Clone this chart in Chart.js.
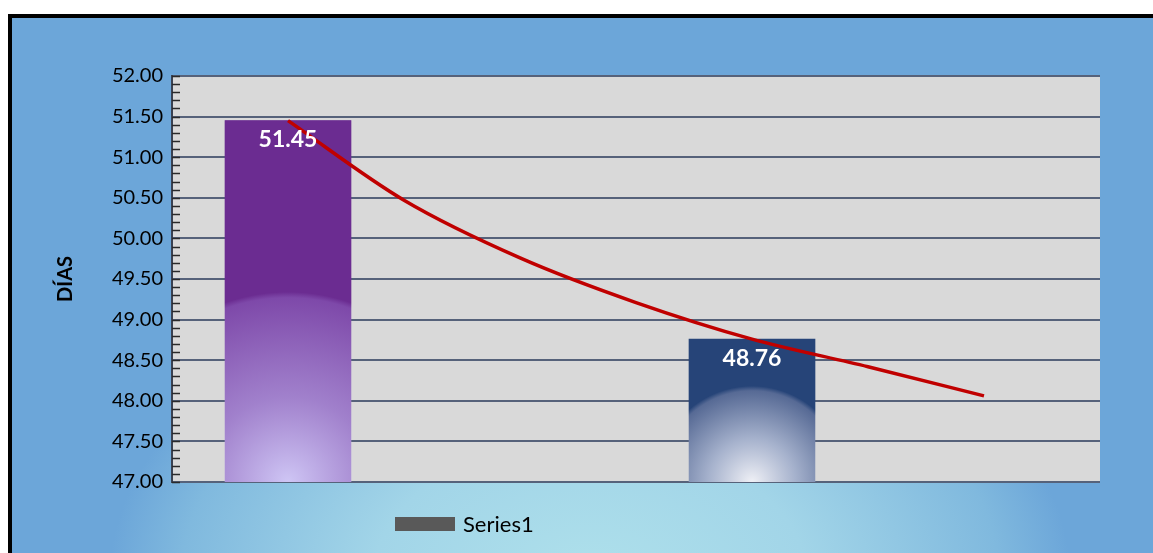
<!DOCTYPE html>
<html>
<head>
<meta charset="utf-8">
<script src="https://cdn.jsdelivr.net/npm/chart.js@4.4.1/dist/chart.umd.min.js"></script>
<style>
  body { margin: 0; background: #fff; overflow: hidden; }
  #frame {
    position: absolute; left: 8px; top: 14px; width: 1141px; height: 535px;
    border-left: 4px solid #000; border-top: 4px solid #000;
    background: radial-gradient(ellipse 480px 300px at 578px 557px, #aee0eb 0%, #a2d5e8 45%, #80b9de 85%, rgba(108,166,217,0) 100%), #6ca6d9;
  }
  #chart { position: absolute; left: 0; top: 0; }
</style>
</head>
<body>
<div id="frame"></div>
<canvas id="chart" width="1153" height="553"></canvas>
<script>
    // datos
    const categories = [1, 2];
    const seriesName = 'Series1';
    const barValues = [51.45, 48.76];
    const trendX = [1, 1.25, 1.5, 1.75, 2, 2.25, 2.5];
    const trendValues = [51.45, 50.47, 49.76, 49.21, 48.76, 48.42, 48.06];
    const yMin = 47, yMax = 52, yStep = 0.5;

    const barTop = ['#6b2c91', '#264478'];
    const barGlow = [
        { r: 190, stops: [[0, 'rgba(212,206,250,0.95)'], [0.45, 'rgba(168,140,212,0.88)'], [0.97, 'rgba(128,76,172,0.9)'], [1, '#6b2c91']] },
        { r: 96, stops: [[0, 'rgba(246,246,250,0.97)'], [0.45, 'rgba(180,190,214,0.9)'], [0.95, 'rgba(92,110,152,0.9)'], [1, '#264478']] }
    ];

    function barFill(ctx) {
        const chart = ctx.chart;
        const area = chart.chartArea;
        const i = ctx.dataIndex;
        if (!area || i === undefined) return barTop[0];
        const cx = chart.scales.x.getPixelForValue(categories[i]);
        const g = chart.ctx.createRadialGradient(cx, area.bottom, 0, cx, area.bottom, barGlow[i].r);
        barGlow[i].stops.forEach(s => g.addColorStop(s[0], s[1]));
        return g;
    }

    const plotBg = {
        id: 'plotBg',
        beforeDraw(chart) {
            const a = chart.chartArea, c = chart.ctx;
            c.save();
            c.fillStyle = '#d9d9d9';
            c.fillRect(a.left, a.top, a.right - a.left, a.bottom - a.top);
            c.restore();
        }
    };

    // barras: parte superior sólida antes del degradado
    const barSolid = {
        id: 'barSolid',
        beforeDatasetsDraw(chart) {
            const meta = chart.getDatasetMeta(0);
            const a = chart.chartArea, c = chart.ctx;
            c.save();
            meta.data.forEach((bar, i) => {
                const w = bar.width;
                const bottom = Math.min(bar.base, a.bottom);
                c.fillStyle = barTop[i];
                c.fillRect(bar.x - w / 2, bar.y, w, bottom - bar.y);
            });
            c.restore();
        }
    };

    const minorTicks = {
        id: 'minorTicks',
        beforeDatasetsDraw(chart) {
            const y = chart.scales.y, a = chart.chartArea, c = chart.ctx;
            c.save();
            c.strokeStyle = '#2a2a2a';
            c.lineWidth = 1.5;
            for (let v = yMin; v <= yMax + 1e-9; v += 0.1) {
                const py = Math.round(y.getPixelForValue(v)) + 0.5;
                c.beginPath();
                c.moveTo(a.left, py);
                c.lineTo(a.left + 8, py);
                c.stroke();
            }
            c.restore();
        }
    };

    const barLabels = {
        id: 'barLabels',
        afterDatasetsDraw(chart) {
            const meta = chart.getDatasetMeta(0);
            const c = chart.ctx;
            c.save();
            c.fillStyle = '#fff';
            c.font = 'bold 23px Lato';
            c.textAlign = 'center';
            c.textBaseline = 'middle';
            meta.data.forEach((bar, i) => {
                c.fillText(barValues[i].toFixed(2), bar.x, bar.y + 19);
            });
            c.restore();
        }
    };

    const legendBox = {
        id: 'legendBox',
        afterDraw(chart) {
            const c = chart.ctx;
            c.save();
            c.fillStyle = '#595959';
            c.fillRect(395, 517, 60, 14);
            c.fillStyle = '#000';
            c.font = '22px Lato';
            c.textBaseline = 'middle';
            c.fillText(chart.data.datasets[0].label, 463, 525);
            c.restore();
        }
    };

    new Chart(document.getElementById('chart'), {
        data: {
            datasets: [{
                type: 'bar',
                label: seriesName,
                data: categories.map((x, i) => ({ x: x, y: barValues[i] })),
                backgroundColor: barFill,
                barThickness: 126,
                order: 2
            }, {
                type: 'line',
                label: 'trend',
                data: trendX.map((x, i) => ({ x: x, y: trendValues[i] })),
                borderColor: '#c00000',
                borderWidth: 3.5,
                pointRadius: 0,
                cubicInterpolationMode: 'monotone',
                order: 1
            }]
        },
        plugins: [plotBg, barSolid, minorTicks, barLabels, legendBox],
        options: {
            responsive: false,
            animation: false,
            layout: { padding: { left: 0, top: 76, right: 53, bottom: 71 } },
            plugins: {
                legend: { display: false },
                tooltip: { enabled: false }
            },
            scales: {
                x: {
                    type: 'linear',
                    display: false,
                    offset: false,
                    min: 0.75,
                    max: 2.75
                },
                y: {
                    min: yMin,
                    max: yMax,
                    ticks: {
                        stepSize: yStep,
                        color: '#000',
                        font: { family: 'Lato', size: 20 },
                        padding: 9,
                        callback: v => v.toFixed(2)
                    },
                    grid: { color: '#56627a', lineWidth: 2, drawTicks: false },
                    border: { color: '#3a4252', width: 2 },
                    title: {
                        display: true,
                        text: 'DÍAS',
                        color: '#000',
                        font: { family: 'Lato', size: 20, weight: 'bold' },
                        padding: { top: 54, bottom: 0 }
                    },
                    afterFit: scale => { scale.width = 172; }
                }
            }
        }
    });
</script>
</body>
</html>
